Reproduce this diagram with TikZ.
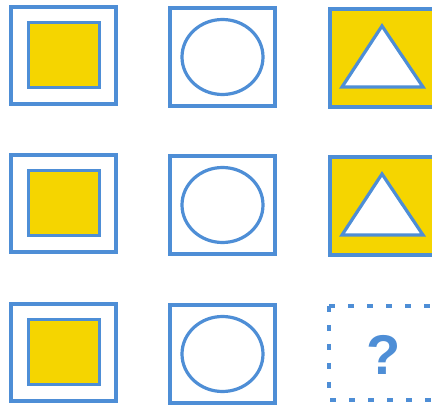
\documentclass[tikz,border=0pt]{standalone}
\usepackage{fontspec}
\setmainfont{Liberation Sans}
\definecolor{fblue}{HTML}{4E8ED6}
\definecolor{fyellow}{HTML}{F5D500}
\begin{document}
\begin{tikzpicture}[x=1pt,y=-1pt,
  frame/.style={draw=fblue,line width=4pt},
  innersq/.style={draw=fblue,line width=3.2pt,fill=fyellow},
  ring/.style={draw=fblue,line width=3.2pt,fill=white},
  dashframe/.style={draw=fblue,line width=4pt,dash pattern=on 6pt off 13pt},
  qmark/.style={text=fblue,font=\fontsize{56}{56}\selectfont\bfseries,inner sep=0pt}]
\useasboundingbox[fill=white] (0,0) rectangle (432,409);
\foreach \r/\y in {1/0,2/148,3/297}{
  % box 1
  \draw[frame] (11,7+\y) rectangle (116,104+\y);
  \draw[innersq] (28.5,22.5+\y) rectangle (99.5,87.5+\y);
  % box 2
  \draw[frame] (170,8+\y) rectangle (275,106+\y);
  \draw[ring] (222.5,57+\y) ellipse [x radius=40.5, y radius=37.5];
}
% box 3 row 1 and 2
\foreach \y in {0,148}{
  \draw[frame,fill=fyellow] (330,9+\y) rectangle (440,107+\y);
  \draw[ring,line join=miter] (382,26+\y) -- (423,87+\y) -- (342,87+\y) -- cycle;
}
% dashed box
\draw[dashframe] (329,306) -- (329,400) -- (440,400);
\draw[dashframe] (329,306) -- (440,306);
\node[qmark] (q) at (384,355) {?};
\end{tikzpicture}
\end{document}
